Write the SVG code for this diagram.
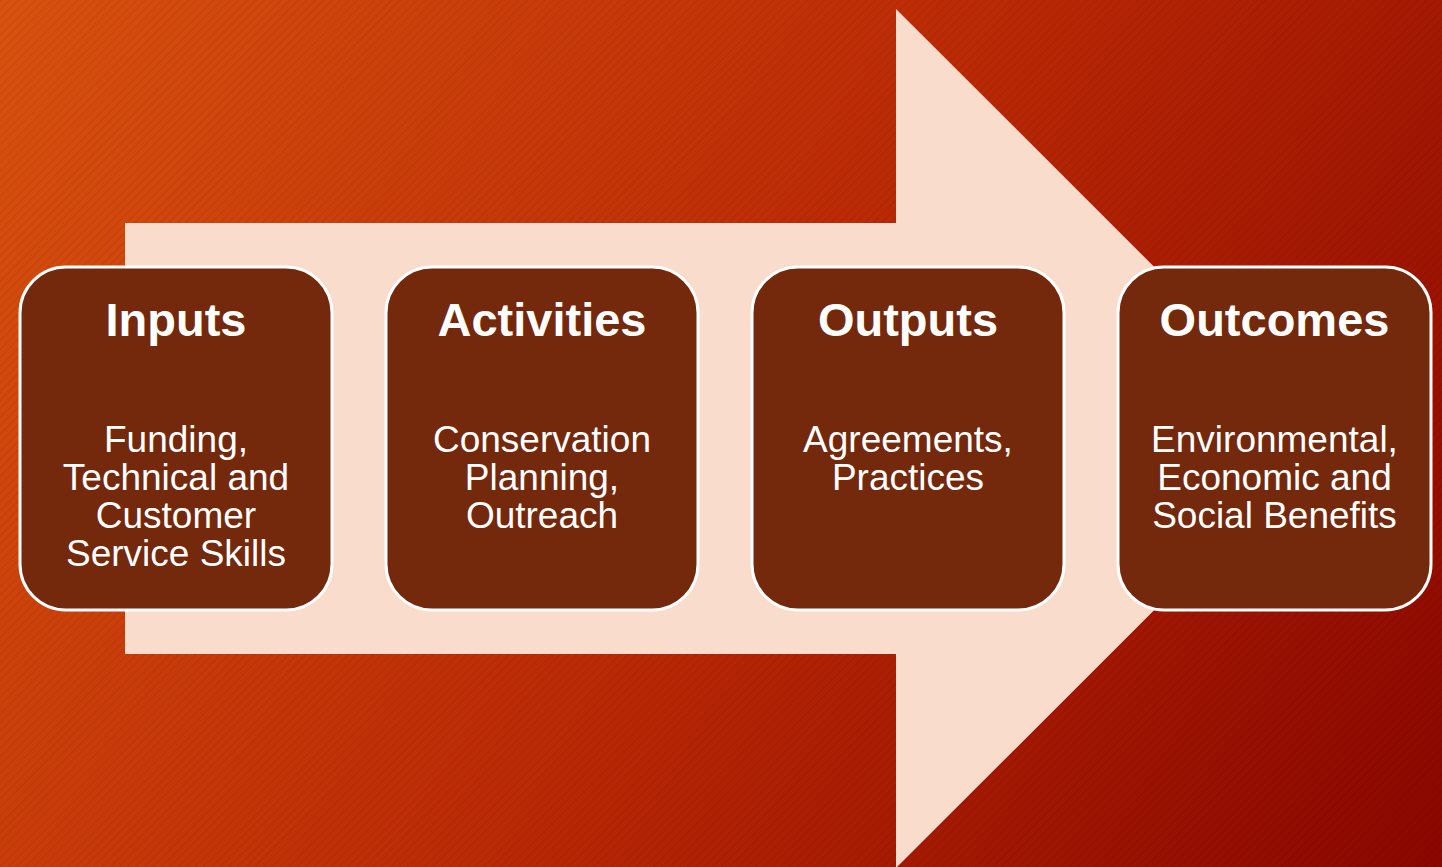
<svg xmlns="http://www.w3.org/2000/svg" width="1442" height="867" viewBox="0 0 1442 867">
<defs>
<linearGradient id="bg" x1="0" y1="0" x2="1442" y2="867" gradientUnits="userSpaceOnUse">
<stop offset="0" stop-color="#D9520F"/>
<stop offset="0.5" stop-color="#BC2A05"/>
<stop offset="1" stop-color="#8A0600"/>
</linearGradient>
<pattern id="stripes" width="6" height="6" patternUnits="userSpaceOnUse" patternTransform="rotate(45)">
<rect width="2" height="6" fill="#000" opacity="0.05"/>
</pattern>
</defs>
<style>
.box{fill:#74280C;stroke:#FFFFFF;stroke-width:3}
.title{font-family:"Liberation Sans",Arial,sans-serif;font-weight:bold;font-size:47px;fill:#FFFFFF;text-anchor:middle}
.body{font-family:"Liberation Sans",Arial,sans-serif;font-size:37px;fill:#FFFFFF;text-anchor:middle}
</style>
<rect width="1442" height="867" fill="url(#bg)"/>
<rect width="1442" height="867" fill="url(#stripes)"/>
<g id="arrow">
<polygon points="125,223 896,223 896,9 1326,438.5 896,868 896,654 125,654" fill="#F9DCCC"/>
</g>
<g id="inputs">
<rect class="box" x="20" y="267" width="312" height="343" rx="46"/>
<text class="title" x="176" y="336">Inputs</text>
<text class="body" x="176" y="452">Funding,</text>
<text class="body" x="176" y="490">Technical and</text>
<text class="body" x="176" y="528">Customer</text>
<text class="body" x="176" y="566">Service Skills</text>
</g>
<g id="activities">
<rect class="box" x="386" y="267" width="312" height="343" rx="46"/>
<text class="title" x="542" y="336">Activities</text>
<text class="body" x="542" y="452">Conservation</text>
<text class="body" x="542" y="490">Planning,</text>
<text class="body" x="542" y="528">Outreach</text>
</g>
<g id="outputs">
<rect class="box" x="752" y="267" width="312" height="343" rx="46"/>
<text class="title" x="908" y="336">Outputs</text>
<text class="body" x="908" y="452">Agreements,</text>
<text class="body" x="908" y="490">Practices</text>
</g>
<g id="outcomes">
<rect class="box" x="1118" y="267" width="313" height="343" rx="46"/>
<text class="title" x="1274.5" y="336">Outcomes</text>
<text class="body" x="1274.5" y="452">Environmental,</text>
<text class="body" x="1274.5" y="490">Economic and</text>
<text class="body" x="1274.5" y="528">Social Benefits</text>
</g>
</svg>
